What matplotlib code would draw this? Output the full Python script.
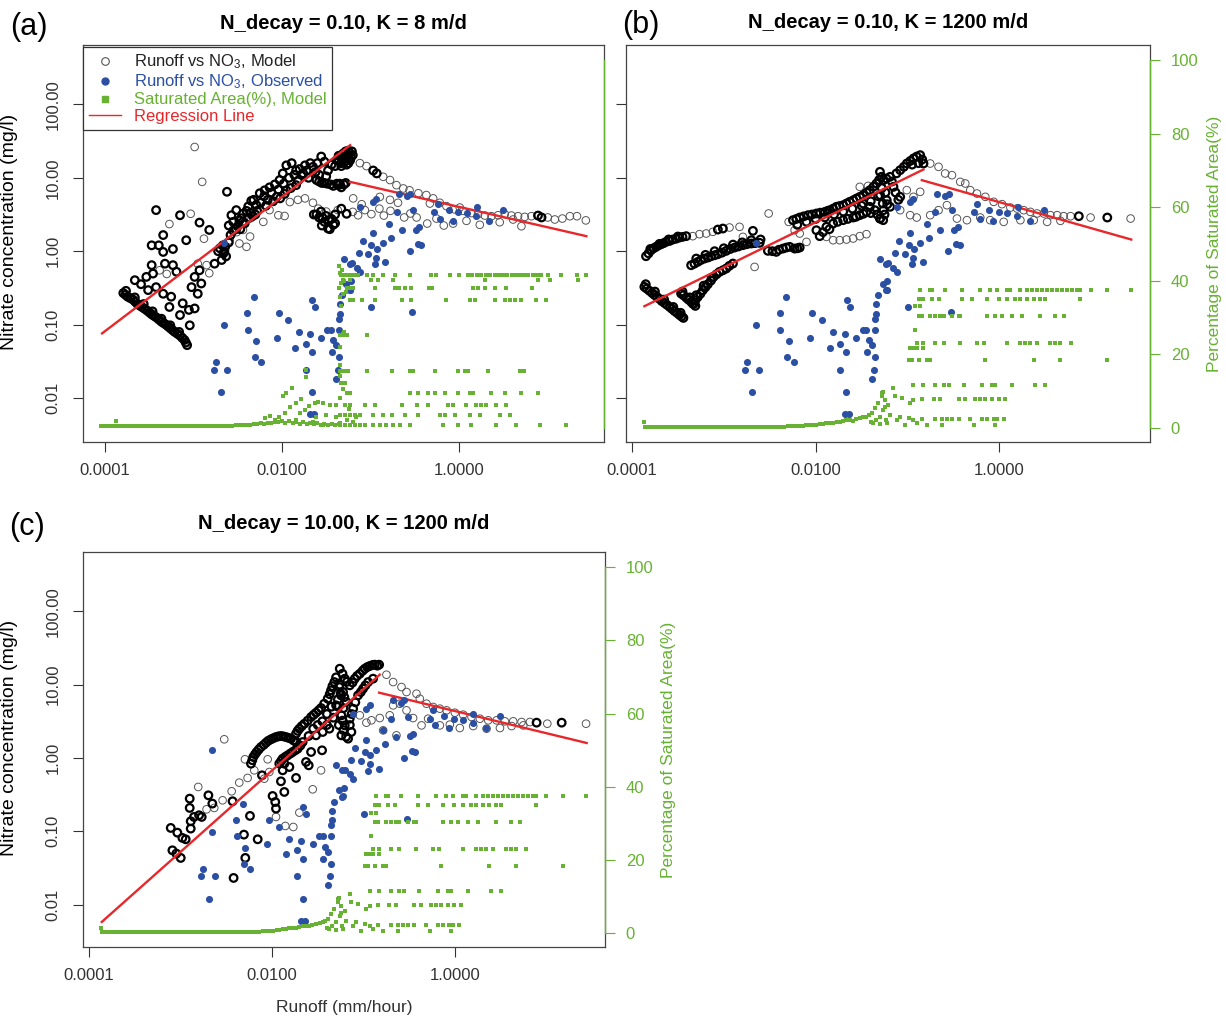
import numpy as np
import matplotlib
matplotlib.use("Agg")
import matplotlib.pyplot as plt
from matplotlib.lines import Line2D
from matplotlib.ticker import NullLocator

plt.rcParams['font.family'] = ['Liberation Sans', 'DejaVu Sans']

# all points: (log10 runoff [mm/h], log10 nitrate [mg/l])
# observed runoff vs NO3 (same observations in every panel)
observed = [
    (-2.654, 0.114), (-2.32, -0.623), (-2.392, -0.84), (-2.036, -0.84), (-1.927, -0.94),
    (-2.654, -1.009), (-2.385, -1.068), (-2.294, -1.223), (-2.058, -1.177), (-1.81, -1.105),
    (-1.73, -1.259), (-1.847, -1.314), (-1.665, -1.373), (-1.683, -1.132), (-1.658, -0.668),
    (-1.629, -0.759), (-1.556, -1.177), (-1.49, -1.068), (-1.447, -1.068), (-1.418, -1.214),
    (-1.44, -1.373), (-1.356, -1.068), (-1.392, -1.282), (-2.309, -1.441), (-2.24, -1.514),
    (-2.749, -1.514), (-2.77, -1.614), (-2.621, -1.614), (-2.69, -1.918), (-1.73, -1.614),
    (-1.367, -1.614), (-1.392, -1.736), (-1.665, -1.918), (-1.683, -2.223), (-1.636, -2.223),
    (-1.3, -0.1), (-1.272, -0.441), (-1.32, -0.6), (-1.345, -0.723), (-1.356, -0.918),
    (-1.345, -0.85), (-1.356, -1.441), (-1.23, -0.168), (-1.236, -0.532),
    (-1.117, 0.605), (-0.971, 0.673), (-0.935, 0.718), (-0.68, 0.786), (-0.59, 0.75),
    (-0.553, 0.786), (-0.698, 0.536), (-0.516, 0.559), (-0.79, 0.377), (-0.244, 0.65),
    (-0.28, 0.536), (-0.215, 0.445), (-0.117, 0.568), (-0.069, 0.414), (-0.008, 0.536),
    (0.084, 0.523), (0.2, 0.605), (0.192, 0.477), (0.338, 0.414), (0.491, 0.568),
    (-0.971, 0.25), (-1.088, 0.141), (-0.989, 0.082), (-1.135, -0.023), (-1.026, -0.041),
    (-0.927, 0.036), (-0.862, 0.105), (-0.768, 0.186), (-0.644, 0.286), (-0.491, 0.295),
    (-0.455, 0.332), (-0.469, 0.095), (-0.433, 0.082), (-0.56, 0.005), (-0.935, -0.086),
    (-0.953, -0.177), (-0.833, -0.15), (-1.208, -0.159), (-1.153, -0.223), (-1.117, -0.282),
    (-1.218, -0.405), (-1.226, -0.523), (-1.0, -0.759), (-0.527, -0.827),
]

# model, panel (a): N_decay 0.10, K 8 m/d
model_a_dense = [
    (-3.79, -0.57), (-3.74, -0.62), (-3.68, -0.66), (-3.63, -0.72), (-3.58, -0.76),
    (-3.52, -0.81), (-3.47, -0.86), (-3.42, -0.90), (-3.36, -0.96), (-3.31, -1.00),
    (-3.26, -1.05), (-3.21, -1.10), (-3.15, -1.15), (-3.10, -1.21), (-3.07, -1.28),
    (-3.765, -0.595), (-3.71, -0.64), (-3.655, -0.69), (-3.605, -0.74), (-3.55, -0.785),
    (-3.495, -0.835), (-3.445, -0.88), (-3.39, -0.93), (-3.335, -0.98), (-3.285, -1.025),
    (-3.235, -1.075), (-3.18, -1.125), (-3.125, -1.18), (-3.085, -1.245),
    (-3.76, -0.54), (-3.66, -0.63), (-3.56, -0.72), (-3.46, -0.82), (-3.36, -0.92),
    (-3.26, -1.01), (-3.16, -1.10),
    (-2.62, 0.81), (-3.42, 0.56), (-3.15, 0.49), (-2.93, 0.39), (-3.34, 0.22), (-2.82, 0.29),
    (-3.08, 0.15), (-3.47, 0.08), (-3.39, 0.08), (-3.34, -0.01), (-3.23, 0.03), (-2.76, -0.17),
    (-3.47, -0.19), (-3.32, -0.17), (-3.23, -0.19), (-3.455, -0.305), (-3.53, -0.35),
    (-3.66, -0.395), (-3.59, -0.45), (-3.19, -0.28), (-3.42, -0.49), (-3.34, -0.58),
    (-3.25, -0.62), (-3.51, -0.53), (-3.27, -0.76), (-3.15, -0.87), (-3.04, -1.01),
    (-3.12, -0.71), (-3.05, -0.80), (-2.985, -0.78), (-3.02, -0.49), (-2.95, -0.58),
    (-2.91, -0.44), (-2.985, -0.35), (-2.93, -0.26), (-2.665, 0.08), (-2.65, 0.0),
    (-2.63, -0.07), (-2.70, 0.04), (-2.68, -0.12), (-2.66, -0.03), (-2.64, 0.06),
    (-2.72, 0.0), (-2.60, 0.12),
    (-2.58, 0.22), (-2.55, 0.28), (-2.50, 0.34), (-2.47, 0.30), (-2.44, 0.40), (-2.38, 0.45),
    (-2.33, 0.48), (-2.30, 0.50),
    (-2.57, 0.49), (-2.515, 0.56), (-2.48, 0.42), (-2.44, 0.51), (-2.38, 0.61), (-2.346, 0.686),
    (-2.29, 0.63), (-2.25, 0.79), (-2.195, 0.83), (-2.14, 0.87), (-2.08, 0.91), (-2.026, 0.97),
    (-1.99, 1.06), (-1.95, 1.17), (-1.89, 1.20), (-1.84, 1.10), (-1.78, 1.04), (-1.74, 1.17),
    (-1.65, 1.15), (-1.556, 1.29), (-1.48, 1.10), (-1.40, 1.16), (-1.33, 1.20), (-2.16, 0.70),
    (-2.06, 0.74), (-1.95, 0.83), (-1.84, 0.90),
    (-2.60, 0.35), (-2.55, 0.40), (-2.52, 0.30), (-2.46, 0.45), (-2.42, 0.38), (-2.40, 0.55),
    (-2.35, 0.52), (-2.32, 0.70), (-2.28, 0.55), (-2.24, 0.66), (-2.20, 0.75), (-2.18, 0.62),
    (-2.12, 0.80), (-2.10, 0.68), (-2.04, 0.84), (-2.02, 0.72), (-1.98, 0.92), (-1.97, 0.78),
    (-1.92, 1.00), (-1.90, 0.86), (-1.86, 1.04), (-1.82, 0.96), (-1.80, 1.12), (-1.76, 1.06),
    (-1.72, 1.10), (-1.70, 1.00), (-1.68, 1.20), (-1.62, 1.08), (-1.60, 1.20), (-1.58, 1.04),
    (-1.52, 1.22), (-1.50, 1.02), (-1.44, 1.18), (-1.38, 1.24), (-1.36, 1.30),
    (-1.61, 0.97), (-1.52, 0.93), (-1.42, 0.89), (-1.33, 0.87), (-1.61, 0.50), (-1.545, 0.46),
    (-1.47, 0.42), (-1.40, 0.38), (-1.48, 0.31), (-1.56, 0.54),
    (-1.58, 0.95), (-1.55, 0.93), (-1.49, 0.92), (-1.45, 0.91), (-1.38, 0.92), (-1.36, 0.90),
    (-1.30, 0.91), (-1.28, 0.93),
    (-1.64, 0.50), (-1.58, 0.46), (-1.52, 0.40), (-1.50, 0.48), (-1.44, 0.44), (-1.42, 0.36),
    (-1.46, 0.30), (-1.55, 0.35), (-1.40, 0.50),
    (-1.31, 1.33), (-1.25, 1.37), (-1.20, 1.31), (-1.29, 1.22), (-1.33, 1.16), (-1.23, 1.24),
    (-1.36, 1.25), (-1.34, 1.30), (-1.30, 1.27), (-1.28, 1.36), (-1.26, 1.30), (-1.24, 1.34),
    (-1.22, 1.28), (-1.21, 1.36), (-1.27, 1.18), (-1.32, 1.22), (-1.25, 1.20),
    (-0.97, 1.10), (-0.93, 1.06), (0.89, 0.486), (0.93, 0.46), (-1.33, 0.58), (-1.27, 0.51),
    (-1.346, 0.92),
]
model_a_light = [
    (-2.985, 1.42), (-2.90, 0.945), (-3.03, 0.51), (-3.27, 0.37), (-2.88, 0.17), (-3.38, -0.26),
    (-3.30, -0.31), (-2.85, -0.19), (-2.82, -0.30), (-2.95, -0.17), (-2.59, 0.15),
    (-2.14, 0.56), (-2.04, 0.49), (-1.97, 0.48), (-1.91, 0.67), (-1.82, 0.70), (-1.74, 0.72),
    (-1.65, 0.66), (-1.59, 0.58), (-1.50, 0.54), (-1.37, 0.56), (-2.35, 0.45), (-2.21, 0.40),
    (-2.44, 0.29), (-2.36, 0.20), (-2.48, 0.105), (-2.40, 0.06), (-2.51, 0.26),
    (-1.12, 1.20), (-1.046, 1.16), (-0.857, 1.014), (-0.78, 0.97), (-0.707, 0.90), (-0.63, 0.855),
    (-0.56, 0.83), (-0.46, 0.79), (-0.37, 0.765), (-0.293, 0.72), (-0.218, 0.66), (-0.143, 0.614),
    (-0.05, 0.57), (0.045, 0.55), (0.139, 0.52), (0.214, 0.505), (0.29, 0.486), (0.365, 0.477),
    (0.44, 0.49), (0.515, 0.505), (0.59, 0.486), (0.665, 0.477), (0.74, 0.468), (0.816, 0.477),
    (1.00, 0.46), (1.08, 0.432), (1.165, 0.445), (1.25, 0.477), (1.33, 0.477), (1.43, 0.42),
    (-1.20, 0.536), (-1.14, 0.49), (-1.064, 0.56), (-0.99, 0.505), (-0.90, 0.58), (-0.85, 0.486),
    (-0.775, 0.55), (-0.69, 0.66), (-0.62, 0.46), (-0.55, 0.514), (-0.48, 0.46), (-1.196, 0.72),
    (-0.895, 0.74), (-0.78, 0.70), (-1.10, 0.64), (-0.36, 0.377), (-0.256, 0.445), (-0.173, 0.35),
    (-0.068, 0.377), (0.083, 0.414), (0.233, 0.36), (0.458, 0.395), (0.609, 0.432), (0.703, 0.34),
    (-0.33, 0.65), (0.007, 0.595),
]

# model, panel (b): N_decay 0.10, K 1200 m/d
model_b_dense = [
    (-3.865, -0.486), (-3.81, -0.54), (-3.756, -0.595), (-3.70, -0.65), (-3.647, -0.705),
    (-3.59, -0.759), (-3.538, -0.814), (-3.483, -0.868), (-3.44, -0.909),
    (-3.84, -0.51), (-3.78, -0.57), (-3.73, -0.62), (-3.675, -0.68), (-3.62, -0.73),
    (-3.565, -0.785), (-3.51, -0.84), (-3.46, -0.89), (-3.85, -0.45), (-3.75, -0.55),
    (-3.65, -0.66), (-3.55, -0.76), (-3.47, -0.84),
    (-3.465, -0.577), (-3.41, -0.632), (-3.356, -0.69), (-3.31, -0.745), (-3.44, -0.60),
    (-3.385, -0.66), (-3.33, -0.72), (-3.45, -0.55), (-3.37, -0.63),
    (-3.847, -0.068), (-3.792, 0.014), (-3.738, 0.059), (-3.683, 0.095), (-3.629, 0.127),
    (-3.556, 0.159), (-3.483, 0.186), (-3.41, 0.205), (-3.065, 0.295), (-3.01, 0.309),
    (-2.683, 0.277), (-3.82, -0.03), (-3.765, 0.04), (-3.71, 0.08), (-3.655, 0.11),
    (-3.59, 0.14), (-3.52, 0.17), (-3.45, 0.195), (-3.80, 0.03), (-3.70, 0.10), (-3.60, 0.16),
    (-3.50, 0.20),
    (-3.356, -0.191), (-3.283, -0.145), (-3.21, -0.1), (-3.138, -0.068), (-3.065, -0.041),
    (-2.974, 0.005), (-2.883, 0.05), (-2.792, 0.082), (-2.701, 0.105), (-2.61, 0.114),
    (-2.52, 0.005), (-2.429, -0.009), (-2.356, 0.036), (-2.283, 0.059), (-2.229, 0.036),
    (-2.174, 0.05), (-3.32, -0.17), (-3.25, -0.12), (-3.17, -0.085), (-3.10, -0.055),
    (-3.02, -0.02), (-2.93, 0.03), (-2.84, 0.065), (-2.75, 0.095), (-2.66, 0.11), (-2.47, 0.0),
    (-2.40, 0.02), (-2.32, 0.05), (-2.20, 0.04), (-3.30, -0.10), (-3.20, -0.05), (-3.10, 0.0),
    (-3.00, 0.04), (-2.90, 0.09), (-2.80, 0.12), (-2.70, 0.15), (-2.60, 0.16),
    (-3.338, -0.714), (-3.283, -0.623), (-3.229, -0.532), (-3.174, -0.45), (-3.112, -0.35),
    (-3.047, -0.282), (-2.974, -0.236), (-2.901, -0.168), (-3.31, -0.67), (-3.255, -0.58),
    (-3.20, -0.49), (-3.14, -0.40), (-3.08, -0.315), (-3.01, -0.26), (-2.94, -0.20),
    (-3.30, -0.60), (-3.22, -0.47), (-3.13, -0.36),
    (-2.247, 0.423), (-2.174, 0.459), (-2.083, 0.491), (-1.992, 0.514), (-1.9, 0.536),
    (-1.847, 0.559), (-1.774, 0.605), (-1.701, 0.627), (-1.629, 0.673), (-1.556, 0.718),
    (-1.483, 0.764), (-1.41, 0.832), (-1.338, 0.923), (-1.283, 1.014), (-1.3, 1.082),
    (-1.992, 0.286), (-1.956, 0.205), (-1.883, 0.332), (-1.81, 0.377), (-1.701, 0.423),
    (-1.592, 0.459), (-1.52, 0.491), (-1.447, 0.536), (-1.356, 0.559), (-1.3, 0.445),
    (-1.265, 0.423), (-1.41, 0.605), (-1.483, 0.65),
    (-2.21, 0.44), (-2.13, 0.475), (-2.04, 0.50), (-1.95, 0.525), (-1.87, 0.55), (-1.81, 0.58),
    (-1.74, 0.615), (-1.665, 0.65), (-1.59, 0.695), (-1.52, 0.74), (-1.445, 0.80), (-1.37, 0.88),
    (-1.31, 0.97), (-2.20, 0.36), (-2.10, 0.40), (-2.00, 0.44), (-1.90, 0.46), (-1.80, 0.50),
    (-1.70, 0.54), (-1.60, 0.58), (-1.50, 0.62), (-1.40, 0.68), (-1.32, 0.75), (-1.92, 0.26),
    (-1.85, 0.30), (-1.76, 0.40), (-1.65, 0.44), (-1.56, 0.47), (-1.48, 0.51), (-1.40, 0.52),
    (-1.33, 0.50),
    (-1.008, 1.195), (-0.935, 1.264), (-0.862, 1.309), (-0.826, 1.195), (-1.08, 1.105),
    (-1.19, 1.014), (-1.262, 0.968), (-1.153, 0.877), (-1.298, 0.764), (-1.226, 0.695),
    (-1.262, 0.559), (-1.298, 0.445), (-1.19, 0.605), (-1.08, 0.741), (0.865, 0.477),
    (1.175, 0.459), (-1.04, 1.15), (-0.97, 1.23), (-0.90, 1.29), (-0.84, 1.25), (-0.88, 1.20),
    (-0.95, 1.18), (-1.12, 1.06), (-1.23, 0.99), (-1.17, 0.95), (-1.28, 0.86), (-1.24, 0.80),
    (-1.27, 0.65), (-1.25, 0.50), (-1.22, 0.64), (-1.13, 0.80), (-1.10, 0.70),
]
model_b_light = [
    (-3.338, 0.205), (-3.265, 0.232), (-3.192, 0.241), (-3.12, 0.264), (-2.938, 0.323),
    (-2.829, 0.332), (-2.512, 0.514), (-2.665, -0.214), (-2.792, 0.195), (-2.294, 0.4),
    (-2.229, 0.286), (-2.174, 0.241), (-1.738, 0.15), (-1.665, 0.159), (-1.592, 0.173),
    (-1.52, 0.205), (-1.447, 0.232), (-2.1, 0.127), (-1.883, 0.195), (-1.81, 0.15),
    (-1.52, 0.877), (-1.43, 0.89),
    (-0.753, 1.195), (-0.662, 1.15), (-0.59, 1.059), (-0.516, 1.036), (-0.426, 0.945),
    (-0.371, 0.923), (-0.317, 0.832), (-0.244, 0.786), (-0.153, 0.741), (-0.062, 0.673),
    (0.029, 0.641), (0.12, 0.595), (0.192, 0.582), (0.265, 0.559), (0.338, 0.536), (0.41, 0.514),
    (0.483, 0.514), (0.556, 0.491), (0.629, 0.491), (0.70, 0.477), (0.775, 0.477),
    (0.993, 0.459), (1.429, 0.445),
    (-1.08, 0.559), (-0.971, 0.491), (-0.9, 0.459), (-0.753, 0.491), (-0.662, 0.559),
    (-0.571, 0.627), (-0.462, 0.445), (-0.353, 0.423), (-0.208, 0.459), (-0.1, 0.423),
    (0.047, 0.4), (0.229, 0.423), (0.374, 0.423), (0.52, 0.4), (0.665, 0.414), (-0.935, 0.741),
    (-0.862, 0.809), (-1.008, 0.832),
]

# model, panel (c): N_decay 10.00, K 1200 m/d
model_c_dense = [
    (-3.105, -0.954), (-3.033, -1.018), (-2.978, -1.09), (-3.087, -1.259), (-2.996, -1.363),
    (-3.044, -1.304), (-2.942, -1.109), (-2.887, -0.963), (-2.887, -0.863), (-2.851, -0.804),
    (-2.796, -0.781), (-2.767, -0.804), (-2.898, -0.554), (-2.898, -0.681), (-2.694, -0.509),
    (-2.651, -0.622), (-2.43, -0.59), (-2.24, -0.79), (-2.306, -1.045), (-2.156, -1.109),
    (-2.291, -1.363), (-2.419, -1.636), (-2.109, -0.236), (-1.902, -0.318), (-1.865, -0.463),
    (-1.993, -0.518), (-1.964, -0.6), (-1.956, -0.69), (-1.737, -0.272), (-1.599, -0.1),
    (-1.453, 0.105), (-1.573, 0.082),
    (-2.229, -0.077), (-2.204, 0.014), (-2.167, 0.082), (-2.12, 0.15), (-2.065, 0.209),
    (-2.011, 0.255), (-1.956, 0.286), (-1.902, 0.3), (-1.847, 0.286), (-1.792, 0.264),
    (-1.737, 0.218), (-2.215, -0.03), (-2.185, 0.05), (-2.145, 0.115), (-2.09, 0.18),
    (-2.04, 0.235), (-1.985, 0.27), (-1.93, 0.295), (-1.875, 0.295), (-1.82, 0.275),
    (-1.765, 0.24),
    (-1.92, -0.077), (-1.883, -0.009), (-1.829, 0.036), (-1.774, 0.082), (-1.719, 0.127),
    (-1.665, 0.218), (-1.737, 0.332), (-1.701, 0.4), (-1.646, 0.468), (-1.573, 0.559),
    (-1.519, 0.618), (-1.464, 0.682), (-1.391, 0.809), (-1.355, 0.923), (-1.319, 1.036),
    (-1.264, 0.968), (-1.246, 0.855), (-1.3, 0.718), (-1.81, -0.123), (-1.883, -0.168),
    (-1.865, -0.077), (-1.628, -0.054), (-1.519, 0.309), (-1.446, 0.355), (-1.373, 0.4),
    (-1.90, -0.04), (-1.855, 0.015), (-1.80, 0.06), (-1.745, 0.105), (-1.69, 0.17),
    (-1.72, 0.37), (-1.675, 0.435), (-1.61, 0.51), (-1.545, 0.59), (-1.49, 0.65), (-1.43, 0.74),
    (-1.37, 0.87), (-1.34, 0.98), (-1.30, 1.10), (-1.40, 0.60), (-1.35, 0.70), (-1.28, 0.80),
    (-1.60, 0.30), (-1.55, 0.40), (-1.50, 0.45), (-1.45, 0.50), (-1.40, 0.45), (-1.33, 0.55),
    (-1.26, 1.218), (-1.205, 1.082), (-1.151, 0.991), (-1.096, 1.082), (-1.041, 1.15),
    (-0.987, 1.218), (-0.932, 1.255), (-0.877, 1.273), (-0.83, 1.273), (-1.224, 0.9),
    (-1.187, 0.764), (-1.242, 0.582), (-1.205, 0.445), (-1.242, 0.309), (-1.169, 0.264),
    (-1.133, 0.355), (-1.151, 0.536), (-1.114, 0.673), (-1.06, 0.855), (-1.005, 0.946),
    (-0.95, 1.036), (-0.896, 1.082), (0.889, 0.482), (1.163, 0.482),
    (-1.23, 1.15), (-1.18, 1.04), (-1.12, 1.03), (-1.07, 1.12), (-1.01, 1.19), (-0.96, 1.24),
    (-0.90, 1.27), (-0.85, 1.26), (-1.21, 0.83), (-1.22, 0.68), (-1.23, 0.51), (-1.22, 0.38),
    (-1.19, 0.29), (-1.15, 0.45), (-1.13, 0.60), (-1.09, 0.76), (-1.03, 0.90), (-0.98, 0.99),
    (-1.26, 1.00), (-1.25, 0.88), (-1.28, 0.70), (-1.27, 0.45),
]
model_c_light = [
    (-2.521, 0.255), (-2.295, -0.018), (-2.193, -0.168), (-2.266, -0.272), (-2.357, -0.336),
    (-2.44, -0.454), (-2.539, -0.577), (-2.63, -0.681), (-2.714, -0.7), (-2.805, -0.395),
    (-1.956, -0.804), (-1.854, -0.927), (-1.767, -0.941), (-1.701, -0.745), (-1.555, -0.427),
    (-1.464, -0.168), (-2.084, -0.282), (-2.029, -0.191), (-2.047, -0.018),
    (-0.75, 1.136), (-0.677, 1.036), (-0.586, 0.968), (-0.531, 0.9), (-0.422, 0.877),
    (-0.386, 0.809), (-0.313, 0.741), (-0.24, 0.696), (-0.167, 0.673), (-0.094, 0.65),
    (-0.003, 0.618), (0.088, 0.591), (0.179, 0.559), (0.27, 0.536), (0.361, 0.514),
    (0.452, 0.514), (0.543, 0.5), (0.634, 0.5), (0.725, 0.491), (0.817, 0.491), (1.006, 0.468),
    (1.429, 0.468),
    (-1.041, 0.582), (-0.969, 0.482), (-0.914, 0.514), (-0.823, 0.545), (-0.714, 0.582),
    (-0.677, 0.718), (-0.604, 0.741), (-0.531, 0.65), (-0.459, 0.545), (-0.367, 0.445),
    (-0.295, 0.536), (-0.167, 0.445), (-0.058, 0.455), (0.051, 0.409), (0.197, 0.436),
    (0.343, 0.4), (0.489, 0.409), (0.616, 0.436), (0.744, 0.445), (-0.786, 0.377),
    (-0.641, 0.309),
]

# regression lines, two segments each: (log10 runoff, log10 NO3)
reg_a = [[(-4.03, -1.12), (-1.23, 1.445)], [(-1.23, 0.945), (1.436, 0.205)]]
reg_b = [[(-3.865, -0.75), (-0.826, 1.114)], [(-0.844, 0.968), (1.436, 0.159)]]
reg_c = [[(-3.858, -2.236), (-0.823, 1.137)], [(-0.83, 0.891), (1.436, 0.205)]]

# saturated area (%) vs log10 runoff, K = 8 m/d
sat_k8_floor_lx = [
    -4.04, -4.00, -3.96, -3.92, -3.88, -3.84, -3.80, -3.76, -3.72, -3.68, -3.64, -3.60,
    -3.56, -3.52, -3.48, -3.44, -3.40, -3.36, -3.32, -3.28, -3.24, -3.20, -3.16, -3.12,
    -3.08, -3.04, -3.00, -2.96, -2.92, -2.88, -2.84, -2.80, -2.76, -2.72, -2.68, -2.64,
    -2.60, -2.56, -2.52, -2.48, -2.44, -2.40, -2.36, -2.32, -2.28, -2.24, -2.20, -2.16,
    -2.12, -2.08, -2.04, -2.00, -1.96, -1.92, -1.88, -1.84, -1.80, -1.76, -1.72, -1.68,
    -1.64, -1.60, -1.56, -1.52, -1.48, -1.44, -1.40, -1.36,
]
sat_k8_floor = [
    0.4, 0.4, 0.4, 0.4, 0.4, 0.4, 0.4, 0.4, 0.4, 0.4, 0.4, 0.4,
    0.4, 0.4, 0.4, 0.4, 0.4, 0.4, 0.4, 0.4, 0.4, 0.4, 0.4, 0.4,
    0.4, 0.4, 0.4, 0.4, 0.4, 0.4, 0.4, 0.4, 0.4, 0.4, 0.4, 0.4,
    0.5, 0.5, 0.6, 0.6, 0.7, 0.7, 0.8, 0.9, 1.0, 1.2, 1.1, 1.4,
    1.3, 1.6, 1.5, 1.9, 1.4, 1.8, 1.3, 1.6, 1.1, 1.5, 1.0, 1.3,
    0.9, 1.2, 0.8, 1.1, 0.7, 1.0, 0.7, 0.9,
]
sat_k8 = [
    (-3.87, 1.9), (-2.195, 2.5), (-2.14, 3.2), (-2.08, 2.1), (-2.03, 2.8), (-1.97, 4.1),
    (-1.99, 8.5), (-1.95, 9.4), (-1.89, 10.7), (-1.91, 5.7), (-1.84, 6.6), (-1.78, 7.7),
    (-1.74, 4.8), (-1.69, 5.9), (-1.63, 6.8), (-1.54, 6.6), (-1.46, 6.1), (-1.39, 6.1),
    (-1.59, 7.1), (-1.80, 3.9), (-1.61, 3.0), (-1.50, 3.5), (-1.39, 2.8), (-1.35, 1.2),
    (-1.84, 2.1), (-1.65, 1.6), (-1.54, 0.7), (-1.73, 15.7), (-1.73, 13.9), (-1.35, 42.0),
    (-1.33, 39.4), (-1.35, 35.7), (-1.31, 25.5), (-1.35, 22.0),
    (-1.36, 44.0), (-1.32, 43.0), (-1.30, 40.0), (-1.36, 38.0), (-1.31, 36.5), (-1.28, 37.0),
    (-1.33, 33.0), (-1.30, 26.0), (-1.34, 25.3), (-1.28, 25.3), (-1.35, 17.0), (-1.30, 15.5),
    (-1.25, 15.5), (-1.34, 14.0), (-1.31, 10.5), (-1.27, 9.5), (-1.35, 8.0), (-1.29, 6.2),
    (-1.24, 5.0),
    (-1.33, 41.6), (-1.29, 41.6), (-1.25, 41.6), (-1.214, 41.6), (-1.177, 41.6), (-1.14, 41.6),
    (-1.045, 41.6), (-0.97, 41.6), (-0.857, 41.6), (-0.726, 41.6), (-0.556, 41.6), (-0.312, 41.6),
    (-0.256, 41.6), (-0.105, 41.6), (0.0, 41.6), (0.101, 41.6), (0.15, 41.6), (0.203, 41.6),
    (0.252, 41.6), (0.308, 41.6), (0.353, 41.6), (0.402, 41.6), (0.451, 41.6), (0.496, 41.6),
    (0.545, 41.6), (0.594, 41.6), (0.639, 41.6), (0.684, 41.6), (0.733, 41.6), (0.782, 41.6),
    (0.835, 41.6), (0.883, 41.6), (0.929, 41.6), (1.004, 41.6), (1.154, 41.6), (1.331, 41.6),
    (1.428, 41.6),
    (-1.31, 40.3), (-1.233, 40.3), (-0.989, 40.3), (-0.914, 40.3), (-0.745, 40.3), (0.289, 40.3),
    (0.891, 40.3), (1.022, 40.3), (1.342, 40.3),
    (-1.27, 38.0), (-1.233, 38.0), (-1.196, 38.0), (-0.951, 38.0), (-0.726, 38.0), (-0.677, 38.0),
    (-0.613, 38.0), (-0.538, 38.0), (-0.339, 38.0), (-0.301, 38.0), (0.158, 38.0), (0.214, 38.0),
    (0.289, 38.0), (0.402, 38.0), (0.534, 38.0), (0.827, 38.0),
    (-1.233, 34.8), (-1.196, 34.8), (-1.10, 34.8), (-0.951, 34.8), (-0.65, 34.8), (-0.538, 34.8),
    (-0.143, 34.8), (0.12, 34.8), (0.177, 34.8), (0.402, 34.8), (0.515, 34.8), (0.571, 34.8),
    (0.628, 34.8), (0.703, 34.8), (0.872, 34.8), (0.985, 34.8),
    (-1.346, 25.3), (-1.31, 25.3), (-1.27, 25.3), (-1.045, 25.3),
    (-1.346, 15.5), (-1.31, 15.5), (-1.27, 15.5), (-1.045, 15.5), (-0.763, 15.5), (-0.556, 15.5),
    (-0.519, 15.5), (-0.275, 15.5), (-0.011, 15.5), (0.064, 15.5), (0.101, 15.5), (0.327, 15.5),
    (0.684, 15.5), (0.729, 15.5),
    (-1.33, 12.1), (-1.29, 12.1),
    (-1.233, 9.5), (-0.556, 9.5), (-0.463, 9.5), (-0.35, 9.5), (-0.275, 9.5), (-0.162, 9.5),
    (-0.011, 9.5), (0.12, 9.5), (0.158, 9.5), (0.365, 9.5), (0.515, 9.5), (0.703, 9.5),
    (0.891, 9.5),
    (-1.233, 6.2), (-1.064, 6.2), (-0.951, 6.2), (-0.65, 6.2), (-0.481, 6.2), (-0.35, 6.2),
    (-0.124, 6.2), (-0.068, 6.2), (0.083, 6.2), (0.195, 6.2), (0.252, 6.2), (0.308, 6.2),
    (0.421, 6.2), (0.534, 6.2),
    (-1.346, 3.5), (-1.29, 3.5), (-1.233, 3.5), (-1.177, 3.5), (-1.12, 3.5), (-0.97, 3.5),
    (-0.857, 3.5), (-0.763, 3.5), (-0.613, 3.5), (-0.463, 3.5), (-0.218, 3.5), (-0.162, 3.5),
    (-0.049, 3.5), (0.12, 3.5), (0.233, 3.5), (0.459, 3.5), (0.571, 3.5),
    (-1.346, 0.7), (-1.29, 0.7), (-1.233, 0.7), (-1.177, 0.7), (-1.12, 0.7), (-1.064, 0.7),
    (-0.97, 0.7), (-0.895, 0.7), (-0.82, 0.7), (-0.745, 0.7), (-0.67, 0.7), (-0.556, 0.7),
    (-0.181, 0.7), (-0.011, 0.7), (0.139, 0.7), (0.421, 0.7), (0.646, 0.7), (0.91, 0.7),
    (1.203, 0.7), (-1.27, 2.1), (-1.196, 1.6), (-1.16, 2.8),
]

# saturated area (%) vs log10 runoff, K = 1200 m/d (panels b and c)
sat_k1200_floor_lx = [
    -3.86, -3.82, -3.78, -3.74, -3.70, -3.66, -3.62, -3.58, -3.54, -3.50, -3.46, -3.42,
    -3.38, -3.34, -3.30, -3.26, -3.22, -3.18, -3.14, -3.10, -3.06, -3.02, -2.98, -2.94,
    -2.90, -2.86, -2.82, -2.78, -2.74, -2.70, -2.66, -2.62, -2.58, -2.54, -2.50, -2.46,
    -2.42, -2.38, -2.34, -2.30, -2.26, -2.22, -2.18, -2.14, -2.10, -2.06, -2.02,
]
sat_k1200_floor = [
    0.3, 0.3, 0.3, 0.3, 0.3, 0.3, 0.3, 0.3, 0.3, 0.3, 0.3, 0.3,
    0.3, 0.3, 0.3, 0.3, 0.3, 0.3, 0.3, 0.3, 0.3, 0.3, 0.3, 0.3,
    0.3, 0.3, 0.3, 0.3, 0.3, 0.3, 0.3, 0.3, 0.3, 0.3, 0.3, 0.3,
    0.3, 0.3, 0.3, 0.4, 0.4, 0.4, 0.5, 0.5, 0.6, 0.6, 0.7,
]
sat_k1200 = [
    (-3.865, 1.6), (-1.992, 0.7), (-1.95, 0.9), (-1.92, 1.0), (-1.883, 1.2), (-1.85, 1.3),
    (-1.81, 1.4), (-1.77, 1.5), (-1.738, 1.6), (-1.70, 1.8), (-1.665, 2.1), (-1.63, 2.0),
    (-1.592, 1.9), (-1.56, 2.3), (-1.52, 2.5), (-1.48, 2.8), (-1.447, 3.0), (-1.42, 3.4),
    (-1.392, 3.9), (-1.356, 5.3), (-1.32, 6.6), (-1.283, 8.5), (-1.265, 9.8), (-1.247, 5.7),
    (-1.30, 3.0), (-1.23, 2.1), (-1.374, 1.2), (-1.40, 1.5), (-1.34, 2.0), (-1.30, 1.0),
    (-1.28, 9.4), (-1.244, 7.5), (-1.262, 4.8), (-1.208, 6.2), (-1.153, 10.7), (-1.135, 8.5),
    (-1.19, 3.5), (-1.117, 2.1), (-1.226, 1.2), (-1.08, 3.0), (-1.026, 0.7), (-0.989, 2.5),
    (-0.935, 2.1), (-0.898, 1.2), (-0.844, 2.3), (-0.79, 0.7), (-0.935, 7.5), (-0.971, 6.6),
    (-1.062, 8.0),
    (-0.698, 2.3), (-0.626, 2.3), (-0.571, 2.3), (-0.516, 2.3), (-0.444, 2.3), (-0.317, 2.3),
    (-0.19, 2.3), (-0.135, 2.3), (-0.062, 2.3), (-0.026, 2.3), (0.047, 2.3),
    (-0.626, 0.7), (-0.28, 0.7), (-0.044, 0.7),
    (-0.844, 7.7), (-0.717, 7.7), (-0.644, 7.7), (-0.444, 7.7), (-0.371, 7.7), (-0.262, 7.7),
    (-0.208, 7.7), (-0.153, 7.7), (-0.08, 7.7), (-0.008, 7.7), (0.065, 7.7),
    (-0.935, 11.6), (-0.826, 11.6), (-0.698, 11.6), (-0.608, 11.6), (-0.553, 11.6), (-0.39, 11.6),
    (-0.19, 11.6), (-0.08, 11.6), (-0.044, 11.6), (0.138, 11.6), (0.393, 11.6), (0.502, 11.6),
    (-0.989, 18.5), (-0.953, 18.5), (-0.88, 18.5), (-0.79, 18.5), (-0.753, 18.5), (-0.153, 18.5),
    (0.374, 18.5), (0.665, 18.5), (1.174, 18.5),
    (-0.971, 21.6), (-0.935, 21.6), (-0.898, 21.6), (-0.826, 21.6),
    (-0.898, 23.0), (-0.826, 23.0), (-0.698, 23.0), (-0.608, 23.0), (-0.426, 23.0), (-0.244, 23.0),
    (-0.171, 23.0), (0.083, 23.0), (0.229, 23.0), (0.283, 23.0), (0.338, 23.0), (0.411, 23.0),
    (0.556, 23.0), (0.611, 23.0), (0.665, 23.0), (0.775, 23.0),
    (-0.917, 26.6),
    (-0.88, 30.5), (-0.844, 30.5), (-0.753, 30.5), (-0.698, 30.5), (-0.644, 30.5), (-0.608, 30.5),
    (-0.516, 30.5), (-0.444, 30.5), (-0.426, 30.5), (-0.135, 30.5), (-0.044, 30.5), (0.029, 30.5),
    (0.138, 30.5), (0.247, 30.5), (0.447, 30.5), (0.611, 30.5), (0.709, 30.5),
    (-0.917, 33.0), (-0.862, 33.0),
    (-0.88, 35.0), (-0.826, 35.0), (-0.735, 35.0), (-0.662, 35.0), (-0.408, 35.0), (-0.298, 35.0),
    (-0.135, 35.0), (-0.008, 35.0), (0.083, 35.0), (0.174, 35.0), (0.229, 35.0), (0.302, 35.0),
    (0.374, 35.0), (0.447, 35.0), (0.502, 35.0), (0.883, 35.0),
    (-0.862, 37.5), (-0.753, 37.5), (-0.735, 37.5), (-0.59, 37.5), (-0.408, 37.5), (-0.208, 37.5),
    (-0.099, 37.5), (-0.026, 37.5), (0.083, 37.5), (0.12, 37.5), (0.229, 37.5), (0.302, 37.5),
    (0.356, 37.5), (0.411, 37.5), (0.465, 37.5), (0.52, 37.5), (0.574, 37.5), (0.629, 37.5),
    (0.683, 37.5), (0.738, 37.5), (0.793, 37.5), (0.847, 37.5), (0.883, 37.5), (0.993, 37.5),
    (1.174, 37.5), (1.429, 37.5),
]

titles = ["N_decay = 0.10, K = 8 m/d", "N_decay = 0.10, K = 1200 m/d",
          "N_decay = 10.00, K = 1200 m/d"]
tags = ["(a)", "(b)", "(c)"]
xtick_vals = [1e-4, 1e-2, 1.0]
xtick_text = ["0.0001", "0.0100", "1.0000"]
ytick_vals = [0.01, 0.1, 1, 10, 100]
ytick_text = ["0.01", "0.10", "1.00", "10.00", "100.00"]
sat_ticks = [0, 20, 40, 60, 80, 100]

BLACK_LIGHT = "#555555"
BLUE = "#2b4fa3"
GREEN = "#67b232"
RED = "#e8272b"
FRAME = "#444444"
TICK = "#333333"

W, H = 1226, 1021
fig = plt.figure(figsize=(W / 100, H / 100), dpi=100)


def pts(p):
    a = np.array(p, dtype=float)
    return a[:, 0], a[:, 1]


def panel(rect, xl, yl, sl, dense, light, reg, floor_lx, floor_v, sat, title, title_y,
          tag, tag_xy, left_labels, right_axis, rlabel_x):
    ax = fig.add_axes([rect[0] / W, 1 - rect[3] / H, (rect[2] - rect[0]) / W,
                       (rect[3] - rect[1]) / H])
    ax.set_xscale("log")
    ax.set_yscale("log")
    ax.set_xlim(10 ** xl[0], 10 ** xl[1])
    ax.set_ylim(10 ** yl[0], 10 ** yl[1])

    x, y = pts(light)
    ax.scatter(10 ** x, 10 ** y, s=30, facecolors="none", edgecolors=BLACK_LIGHT,
               linewidths=0.7, zorder=2)
    x, y = pts(dense)
    ax.scatter(10 ** x, 10 ** y, s=30, facecolors="none", edgecolors="black",
               linewidths=1.6, zorder=2)
    for seg in reg:
        x, y = pts(seg)
        ax.plot(10 ** x, 10 ** y, color=RED, lw=1.7, zorder=3)
    x, y = pts(observed)
    ax.scatter(10 ** x, 10 ** y, s=26, color=BLUE, linewidths=0, zorder=4)

    ax.set_xticks(xtick_vals)
    ax.set_xticklabels(xtick_text)
    ax.set_yticks(ytick_vals)
    if left_labels:
        ax.set_yticklabels(ytick_text, rotation=90, va="center")
        ax.set_ylabel("Nitrate concentration (mg/l)", fontsize=14, color="black")
        ax.yaxis.set_label_coords(-0.125, 0.53)
    else:
        ax.set_yticklabels([])
    ax.xaxis.set_minor_locator(NullLocator())
    ax.yaxis.set_minor_locator(NullLocator())
    ax.tick_params(axis="both", direction="out", length=7, width=0.8, color=TICK,
                   labelcolor=TICK, labelsize=12)
    ax.tick_params(axis="x", pad=8)
    ax.tick_params(axis="y", pad=9)
    for s in ax.spines.values():
        s.set_color(FRAME)
        s.set_linewidth(0.9)

    ax2 = ax.twinx()
    ax2.set_ylim(*sl)
    ax2.scatter(10 ** np.array(floor_lx), floor_v, s=9, marker="s", color=GREEN,
                linewidths=0, zorder=5)
    x, y = pts(sat)
    ax2.scatter(10 ** x, y, s=6, marker="s", color=GREEN, linewidths=0, zorder=5)
    for k in ("top", "left", "bottom"):
        ax2.spines[k].set_visible(False)
    ax2.spines["right"].set_bounds(0, 100)
    ax2.spines["right"].set_color(GREEN)
    ax2.spines["right"].set_linewidth(1.0)
    ax2.yaxis.set_minor_locator(NullLocator())
    if right_axis:
        ax2.set_yticks(sat_ticks)
        ax2.tick_params(axis="y", direction="out", length=7, width=0.8, color=GREEN,
                        labelcolor=GREEN, labelsize=12, pad=8)
        ax2.set_ylabel("Percentage of Saturated Area(%)", fontsize=12.5, color=GREEN)
        ax2.yaxis.set_label_coords(rlabel_x, 0.5)
    else:
        ax2.set_yticks([])

    cx = (rect[0] + rect[2]) / 2 / W
    fig.text(cx, 1 - title_y / H, title, ha="center", va="baseline", fontsize=14.5,
             fontweight="bold", color="black")
    fig.text(tag_xy[0] / W, 1 - tag_xy[1] / H, tag, ha="left", va="center", fontsize=22,
             color="black")
    return ax


ax_a = panel((83, 45, 604, 442), (-4.245, 1.635), (-2.60, 2.81), (-3.9, 104.2),
             model_a_dense, model_a_light, reg_a, sat_k8_floor_lx, sat_k8_floor, sat_k8,
             titles[0], 29, tags[0], (10, 27), True, False, 1.1)
ax_b = panel((626, 45, 1150, 442), (-4.065, 1.64), (-2.60, 2.81), (-3.9, 104.2),
             model_b_dense, model_b_light, reg_b, sat_k1200_floor_lx, sat_k1200_floor,
             sat_k1200, titles[1], 28, tags[1], (622, 25), False, True, 1.108)
ax_c = panel((83, 552, 605, 947), (-4.063, 1.636), (-2.578, 2.81), (-3.7, 104.1),
             model_c_dense, model_c_light, reg_c, sat_k1200_floor_lx, sat_k1200_floor,
             sat_k1200, titles[2], 529, tags[2], (9, 527), True, True, 1.108)
ax_c.set_xlabel("Runoff (mm/hour)", fontsize=12.5, color=TICK)
ax_c.xaxis.set_label_coords(0.5, -0.135)

handles = [
    Line2D([], [], marker="o", ls="none", mfc="none", mec="#555555", mew=0.8, ms=5.5),
    Line2D([], [], marker="o", ls="none", color=BLUE, ms=5),
    Line2D([], [], marker="s", ls="none", color=GREEN, ms=5),
    Line2D([], [], color=RED, lw=1.0),
]
labels = [r"Runoff vs $\mathregular{NO_3}$, Model", r"Runoff vs $\mathregular{NO_3}$, Observed",
          "Saturated Area(%), Model", "Regression Line"]
leg = ax_a.legend(handles, labels, loc="upper left", bbox_to_anchor=(0, 0.996),
                  borderaxespad=0, fontsize=12, frameon=True, fancybox=False,
                  edgecolor="#333333", framealpha=1, handlelength=1.9,
                  handletextpad=0.8, labelspacing=0.08, borderpad=0.35)
leg.get_frame().set_linewidth(0.9)
leg.set_zorder(10)
for t, c in zip(leg.get_texts(), ["#222222", BLUE, GREEN, RED]):
    t.set_color(c)

fig.savefig("out.png", dpi=100)
